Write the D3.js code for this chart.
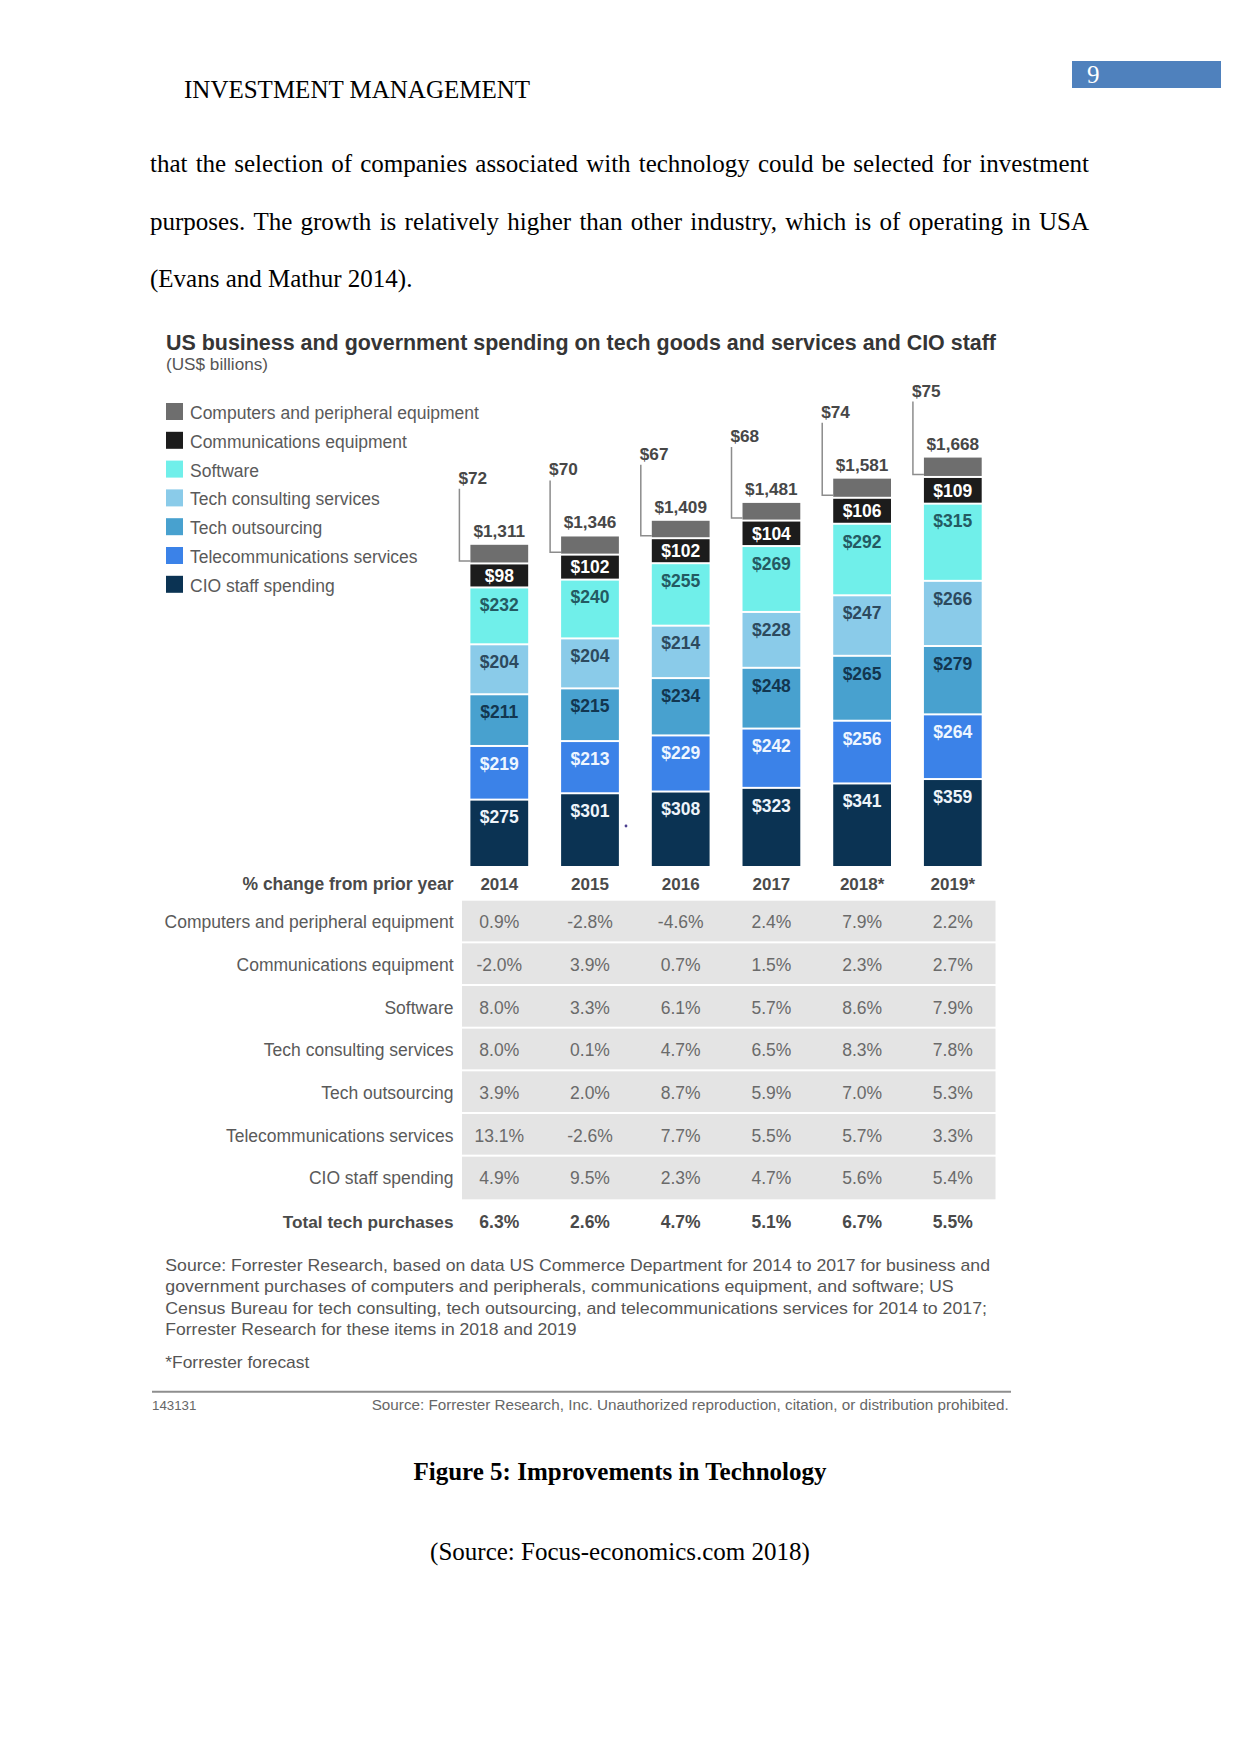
<!DOCTYPE html>
<html><head><meta charset="utf-8">
<script src="https://cdn.jsdelivr.net/npm/d3@7"></script>
<style>body{margin:0;background:#fff}svg{display:block}</style>
</head><body>
<script>
// ---------- DATA ----------
const years = ["2014", "2015", "2016", "2017", "2018*", "2019*"];
const computers   = [72, 70, 67, 68, 74, 75];
const commEquip   = [98, 102, 102, 104, 106, 109];
const software    = [232, 240, 255, 269, 292, 315];
const consulting  = [204, 204, 214, 228, 247, 266];
const outsourcing = [211, 215, 234, 248, 265, 279];
const telecom     = [219, 213, 229, 242, 256, 264];
const cioStaff    = [275, 301, 308, 323, 341, 359];
const totals      = [1311, 1346, 1409, 1481, 1581, 1668];

const seriesNames = ["Computers and peripheral equipment", "Communications equipment", "Software",
  "Tech consulting services", "Tech outsourcing", "Telecommunications services", "CIO staff spending"];

const pctComputers   = [0.9, -2.8, -4.6, 2.4, 7.9, 2.2];
const pctComm        = [-2.0, 3.9, 0.7, 1.5, 2.3, 2.7];
const pctSoftware    = [8.0, 3.3, 6.1, 5.7, 8.6, 7.9];
const pctConsulting  = [8.0, 0.1, 4.7, 6.5, 8.3, 7.8];
const pctOutsourcing = [3.9, 2.0, 8.7, 5.9, 7.0, 5.3];
const pctTelecom     = [13.1, -2.6, 7.7, 5.5, 5.7, 3.3];
const pctCio         = [4.9, 9.5, 2.3, 4.7, 5.6, 5.4];
const pctTotal       = [6.3, 2.6, 4.7, 5.1, 6.7, 5.5];

// ---------- SETUP ----------
const W = 1241, H = 1754;
const SERIF = "'Liberation Serif','Times New Roman',serif";
const SANS = "'Liberation Sans',Arial,Helvetica,sans-serif";
const locale = d3.formatLocale({decimal: ".", thousands: ",", grouping: [3], currency: ["$", ""], minus: "-"});
const svg = d3.select("body").append("svg").attr("width", W).attr("height", H);
svg.append("rect").attr("width", W).attr("height", H).attr("fill", "#fff");

// ---------- PAGE HEADER ----------
svg.append("rect").attr("x", 1072).attr("y", 61).attr("width", 149).attr("height", 27).attr("fill", "#4f81bd");
svg.append("text").attr("x", 1087).attr("y", 83).attr("font-family", SERIF).attr("font-size", 25)
  .attr("fill", "#fff").text("9");
svg.append("text").attr("x", 184).attr("y", 98).attr("font-family", SERIF).attr("font-size", 25)
  .attr("fill", "#000").text("INVESTMENT MANAGEMENT");

// ---------- BODY TEXT ----------
function textLine(str, x0, x1, y, justify) {
  const t = svg.append("text").attr("y", y).attr("font-family", SERIF).attr("font-size", 25).attr("fill", "#000");
  const words = str.split(" ");
  if (!justify) { t.attr("x", x0).text(str); return; }
  const tmp = svg.append("text").attr("font-family", SERIF).attr("font-size", 25);
  const widths = words.map(w => { tmp.text(w); return tmp.node().getComputedTextLength(); });
  tmp.remove();
  const total = d3.sum(widths);
  const gap = (x1 - x0 - total) / (words.length - 1);
  let cx = x0;
  words.forEach((w, i) => {
    t.append("tspan").attr("x", cx).text(w);
    cx += widths[i] + gap;
  });
}
textLine("that the selection of companies associated with technology could be selected for investment", 150, 1089, 172, true);
textLine("purposes. The growth is relatively higher than other industry, which is of operating in USA", 150, 1089, 230, true);
textLine("(Evans and Mathur 2014).", 150, 1089, 287, false);

// ---------- CHART TITLE ----------
svg.append("text").attr("x", 166).attr("y", 350).attr("font-family", SANS).attr("font-weight", "bold")
  .attr("font-size", 21.4).attr("fill", "#353535")
  .attr("textLength", 830).attr("lengthAdjust", "spacingAndGlyphs")
  .text("US business and government spending on tech goods and services and CIO staff");
svg.append("text").attr("x", 166).attr("y", 370).attr("font-family", SANS)
  .attr("font-size", 17).attr("fill", "#555").attr("textLength", 102).attr("lengthAdjust", "spacingAndGlyphs")
  .text("(US$ billions)");

// ---------- LEGEND ----------
const colors = {
  computers: "#6e6e6e", comm: "#1c1c1c", software: "#70efea", consulting: "#8acbe9",
  outsourcing: "#48a1cf", telecom: "#3b82e8", cio: "#0b3353"
};
const labelColors = {
  comm: "#ffffff", software: "#245a62", consulting: "#2d4a5e", outsourcing: "#123650",
  telecom: "#eef6ff", cio: "#eef4fa"
};
const legendKeys = ["computers", "comm", "software", "consulting", "outsourcing", "telecom", "cio"];
const legend = svg.append("g");
legendKeys.forEach((k, i) => {
  const yy = 403 + i * 28.8;
  legend.append("rect").attr("x", 166).attr("y", yy).attr("width", 17).attr("height", 17).attr("fill", colors[k]);
  legend.append("text").attr("x", 190).attr("y", yy + 16).attr("font-family", SANS).attr("font-size", 17.5)
    .attr("fill", "#5a5a5a").text(seriesNames[i]);
});

// ---------- STACKED BARS ----------
const rows = years.map((yr, i) => ({
  year: yr, cio: cioStaff[i], telecom: telecom[i], outsourcing: outsourcing[i], consulting: consulting[i],
  software: software[i], comm: commEquip[i], computers: computers[i]
}));
const stackKeys = ["cio", "telecom", "outsourcing", "consulting", "software", "comm", "computers"];
const stacked = d3.stack().keys(stackKeys)(rows);

const x = d3.scaleBand().domain(years).range([470.4, 981.7]).paddingInner(0.363).paddingOuter(0);
const y = d3.scaleLinear().domain([0, 1700]).range([866, 866 - 1700 * 0.245]);
const GAP = 2;

const barsG = svg.append("g");
stacked.forEach(layer => {
  const key = layer.key;
  layer.forEach((d, i) => {
    const top = y(d[1]) + (key === "computers" ? 0 : GAP);
    const bottom = y(d[0]);
    const cx = x(years[i]);
    barsG.append("rect").attr("x", cx).attr("y", top).attr("width", x.bandwidth())
      .attr("height", bottom - top).attr("fill", colors[key]);
    if (key !== "computers") {
      const h = bottom - top;
      const cy = top + Math.min(16.5, h / 2);
      barsG.append("text").attr("x", cx + x.bandwidth() / 2).attr("y", cy + 6.3)
        .attr("text-anchor", "middle").attr("font-family", SANS).attr("font-weight", "bold")
        .attr("font-size", 17.5).attr("fill", labelColors[key])
        .text("$" + d.data[key]);
    }
  });
});

// totals and computers callouts
const topLayer = stacked[stacked.length - 1];
years.forEach((yr, i) => {
  const bx = x(yr);
  const top = y(topLayer[i][1]);
  const compBottom = y(topLayer[i][0]);
  barsG.append("text").attr("x", bx + x.bandwidth() / 2).attr("y", top - 8).attr("text-anchor", "middle")
    .attr("font-family", SANS).attr("font-weight", "bold").attr("font-size", 17.2).attr("fill", "#474747")
    .text("$" + locale.format(",")(totals[i]));
  const lx = bx - 11;
  const lbY = top - 61;
  barsG.append("text").attr("x", lx - 1).attr("y", lbY).attr("font-family", SANS).attr("font-weight", "bold")
    .attr("font-size", 17.2).attr("fill", "#474747").text("$" + computers[i]);
  barsG.append("path").attr("d", `M${lx},${lbY + 5}V${compBottom - 1.5}H${bx}`)
    .attr("fill", "none").attr("stroke", "#8c8c8c").attr("stroke-width", 1.5);
});

// stray dot from original image
svg.append("circle").attr("cx", 626).attr("cy", 826).attr("r", 1.4).attr("fill", "#4b3f8f");

// ---------- TABLE ----------
const tableLabels = ["Computers and peripheral equipment", "Communications equipment", "Software",
  "Tech consulting services", "Tech outsourcing", "Telecommunications services", "CIO staff spending",
  "Total tech purchases"];
const tableValues = [pctComputers, pctComm, pctSoftware, pctConsulting, pctOutsourcing, pctTelecom, pctCio, pctTotal];
const yRow = d3.scaleBand().domain(tableLabels).range([900.7, 900.7 + 8 * 42.66]).paddingInner(0).paddingOuter(0);
const fmtPct = v => locale.format(".1f")(v) + "%";
const tableG = svg.append("g");

tableG.append("text").attr("x", 453.5).attr("y", 890).attr("text-anchor", "end").attr("font-family", SANS)
  .attr("font-weight", "bold").attr("font-size", 17.5).attr("fill", "#4a4a4a").text("% change from prior year");
years.forEach(yr => {
  tableG.append("text").attr("x", x(yr) + x.bandwidth() / 2).attr("y", 890).attr("text-anchor", "middle")
    .attr("font-family", SANS).attr("font-weight", "bold").attr("font-size", 17).attr("fill", "#4a4a4a").text(yr);
});

tableLabels.forEach((lab, r) => {
  const isTotal = r === tableLabels.length - 1;
  const ry = yRow(lab);
  const cy = ry + yRow.bandwidth() / 2 + (isTotal ? 1.5 : 0);
  if (!isTotal) {
    tableG.append("rect").attr("x", 462).attr("y", ry).attr("width", 533.5)
      .attr("height", yRow.bandwidth() - (r === 6 ? 0 : 2)).attr("fill", "#e4e4e4");
  }
  tableG.append("text").attr("x", 453.5).attr("y", cy + 6.3).attr("text-anchor", "end").attr("font-family", SANS)
    .attr("font-size", isTotal ? 17.2 : 17.5).attr("font-weight", isTotal ? "bold" : "normal")
    .attr("fill", isTotal ? "#4a4a4a" : "#5a5a5a").text(lab);
  tableValues[r].forEach((v, i) => {
    tableG.append("text").attr("x", x(years[i]) + x.bandwidth() / 2).attr("y", cy + 6.3)
      .attr("text-anchor", "middle").attr("font-family", SANS).attr("font-size", 17.5)
      .attr("font-weight", isTotal ? "bold" : "normal")
      .attr("fill", isTotal ? "#4a4a4a" : "#6a6a6a").text(fmtPct(v));
  });
});

// ---------- SOURCE NOTES ----------
const srcLines = [
  ["Source: Forrester Research, based on data US Commerce Department for 2014 to 2017 for business and", 824.7],
  ["government purchases of computers and peripherals, communications equipment, and software; US", 788.4],
  ["Census Bureau for tech consulting, tech outsourcing, and telecommunications services for 2014 to 2017;", 821.7],
  ["Forrester Research for these items in 2018 and 2019", 411.3]
];
srcLines.forEach((s, i) => {
  svg.append("text").attr("x", 165.3).attr("y", 1270.7 + i * 21.45).attr("font-family", SANS)
    .attr("font-size", 17).attr("fill", "#555").attr("textLength", s[1]).attr("lengthAdjust", "spacingAndGlyphs")
    .text(s[0]);
});
svg.append("text").attr("x", 165.3).attr("y", 1368.3).attr("font-family", SANS).attr("font-size", 17)
  .attr("fill", "#555").attr("textLength", 144).attr("lengthAdjust", "spacingAndGlyphs").text("*Forrester forecast");

svg.append("line").attr("x1", 152).attr("x2", 1011).attr("y1", 1391.7).attr("y2", 1391.7)
  .attr("stroke", "#8e8e8e").attr("stroke-width", 2);
svg.append("text").attr("x", 152).attr("y", 1410).attr("font-family", SANS).attr("font-size", 13.3)
  .attr("fill", "#666").text("143131");
svg.append("text").attr("x", 1008.7).attr("y", 1410).attr("text-anchor", "end").attr("font-family", SANS)
  .attr("font-size", 14).attr("fill", "#666").attr("textLength", 637).attr("lengthAdjust", "spacingAndGlyphs")
  .text("Source: Forrester Research, Inc. Unauthorized reproduction, citation, or distribution prohibited.");

// ---------- CAPTION ----------
svg.append("text").attr("x", 620).attr("y", 1480).attr("text-anchor", "middle").attr("font-family", SERIF)
  .attr("font-weight", "bold").attr("font-size", 25).attr("fill", "#000").text("Figure 5: Improvements in Technology");
svg.append("text").attr("x", 620).attr("y", 1560).attr("text-anchor", "middle").attr("font-family", SERIF)
  .attr("font-size", 25).attr("fill", "#000").text("(Source: Focus-economics.com 2018)");
</script>
</body></html>
